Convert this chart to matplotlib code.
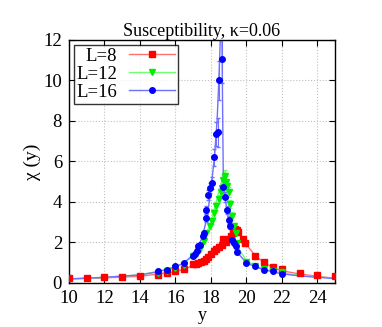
import matplotlib
matplotlib.use('Agg')
import matplotlib.pyplot as plt
from matplotlib.lines import Line2D

plt.rcParams['font.family'] = ['Liberation Serif', 'DejaVu Serif']

# L=8 data points
x8 = [10, 11, 12, 13, 14, 15, 15.5, 16, 16.5, 17.0, 17.15, 17.3, 17.45, 17.6, 17.7, 17.85,
      18.0, 18.15, 18.3, 18.45, 18.6, 18.7, 18.85, 19.0, 19.15, 19.25, 19.35, 19.45, 19.55,
      19.8, 19.95, 20.5, 21.0, 21.5, 22.0, 23.0, 24.0, 25.0]
y8 = [0.25, 0.25, 0.28, 0.3, 0.33, 0.41, 0.49, 0.58, 0.69, 0.94, 0.95, 0.99, 1.04, 1.1, 1.17, 1.28,
      1.43, 1.56, 1.68, 1.78, 1.89, 2.17, 2.0, 2.17, 2.3, 2.47, 2.67, 2.63, 2.5,
      2.17, 1.97, 1.35, 1.02, 0.79, 0.69, 0.49, 0.41, 0.36]
e8 = [0.03] * len(x8)

# L=12 data points
x12 = [15, 15.5, 16, 16.5, 17.0, 17.4, 17.6, 17.75, 17.95, 18.05, 18.2, 18.3, 18.45, 18.55,
       18.62, 18.7, 18.78, 18.85, 18.9, 19.0, 19.1, 19.2, 19.3, 19.4, 19.5, 20.0, 20.5, 21.0,
       21.5, 22.0]
y12 = [0.49, 0.58, 0.74, 0.9, 1.32, 1.68, 2.06, 2.47, 2.8, 3.05, 3.46, 3.79, 4.15, 4.48,
       4.69, 5.1, 5.3, 4.97, 4.77, 4.48, 3.92, 3.33, 2.8, 2.47, 1.97, 1.02, 0.82, 0.69,
       0.59, 0.53]
e12 = [0.03, 0.03, 0.04, 0.05, 0.06, 0.08, 0.1, 0.12, 0.15, 0.15, 0.2, 0.2, 0.2, 0.25,
       0.25, 0.3, 0.3, 0.3, 0.25, 0.25, 0.2, 0.2, 0.15, 0.12, 0.1, 0.05, 0.04, 0.03,
       0.03, 0.03]

# L=16 data points
x16 = [15, 15.5, 16, 16.5, 17.0, 17.1, 17.2, 17.3, 17.4, 17.55, 17.6, 17.7, 17.75, 17.85,
       17.95, 18.05, 18.2, 18.3, 18.4, 18.48, 18.6, 18.67, 18.8, 18.9, 19.0, 19.1, 19.2,
       19.3, 19.4, 19.5, 20.0, 20.5, 21.0, 21.5, 22.0]
y16 = [0.58, 0.63, 0.82, 0.99, 1.35, 1.45, 1.56, 1.81, 1.89, 2.3, 2.47, 3.2, 3.6, 4.36,
       4.69, 4.94, 6.2, 7.36, 7.44, 10.0, 11.06, 4.72, 4.25, 3.59, 3.13, 2.8, 2.14,
       1.97, 1.84, 1.51, 0.99, 0.82, 0.66, 0.58, 0.46]
e16 = [0.03, 0.03, 0.04, 0.05, 0.06, 0.07, 0.08, 0.1, 0.1, 0.12, 0.12, 0.2, 0.2, 0.25,
       0.25, 0.3, 0.4, 0.6, 0.7, 0.95, 1.2, 0.3, 0.25, 0.2, 0.2, 0.15, 0.12,
       0.1, 0.1, 0.08, 0.05, 0.04, 0.03, 0.03, 0.03]

# fit curves (vertices)
cx8 = [10, 12, 14, 16, 17, 17.5, 18, 18.5, 19, 19.3, 19.6, 20, 20.5, 21, 21.5, 22, 23, 24, 25]
cy8 = [0.2, 0.25, 0.33, 0.55, 0.85, 1.05, 1.35, 1.75, 2.2, 2.65, 2.4, 1.9, 1.35, 1.0, 0.75, 0.6, 0.45, 0.33, 0.23]
cx12 = [10, 12, 14, 16, 17, 17.5, 18, 18.3, 18.6, 18.75, 18.9, 19.1, 19.3, 19.5, 20, 20.5, 21, 22, 23, 24, 25]
cy12 = [0.2, 0.28, 0.4, 0.75, 1.3, 1.9, 3.0, 4.0, 5.0, 5.5, 4.5, 3.2, 2.4, 1.8, 1.1, 0.85, 0.68, 0.5, 0.38, 0.3, 0.23]
cx16 = [10, 12, 14, 15, 16, 16.5, 17, 17.5, 17.8, 18.0, 18.2, 18.35, 18.45, 18.55, 18.62,
        18.7, 18.8, 19, 19.2, 19.5, 20, 20.5, 21, 22, 23, 24, 25]
cy16 = [0.2, 0.28, 0.4, 0.55, 0.8, 1.0, 1.4, 2.2, 3.3, 4.6, 6.2, 8.0, 10.0, 12.5, 12.5,
        5.2, 4.2, 3.1, 2.2, 1.5, 1.0, 0.8, 0.65, 0.45, 0.35, 0.28, 0.22]

labels = ['L=8', 'L=12', 'L=16']
series = [
    (x8, y8, e8, cx8, cy8, '#ff0000', '#ff7070', 's', 4.0),
    (x12, y12, e12, cx12, cy12, '#00ee00', '#70ff70', 'v', 3.8),
    (x16, y16, e16, cx16, cy16, '#0000ff', '#7070ff', 'o', 4.0),
]

fig = plt.figure(figsize=(3.82, 3.27), dpi=100)
ax = fig.add_axes([0.1806, 0.1346, 0.6964, 0.7431])

handles = []
for x, y, e, cx, cy, col, lcol, mk, ms in series:
    ax.plot(cx, cy, '-', color=lcol, lw=1.0, zorder=2)
    ax.errorbar(x, y, yerr=e, fmt='none', ecolor=lcol, elinewidth=0.8, capsize=1.5, zorder=2)
    ax.plot(x, y, mk, color=col, ms=ms, mec=col, zorder=3)
    handles.append(Line2D([0], [0], color=lcol, lw=1.0, marker=mk, mfc=col, mec=col, ms=ms))

ax.set_xlim(10, 25)
ax.set_ylim(0, 12)
ax.set_xticks(range(10, 25, 2))
ax.set_yticks(range(0, 13, 2))
ax.grid(True, color='#c0c0c0', ls=':', lw=0.8)
ax.tick_params(direction='in', top=True, right=True, labelsize=13.5, length=4, pad=5)
for s in ax.spines.values():
    s.set_linewidth(1.0)

ax.set_title('Susceptibility, κ=0.06', fontsize=13, pad=3)
ax.set_xlabel('y', fontsize=13, labelpad=0)
ax.set_ylabel('χ (y)', fontsize=14, labelpad=2)

leg = ax.legend(handles, labels, loc='upper left', markerfirst=False,
                fontsize=13.5, frameon=True, fancybox=False, edgecolor='black',
                handlelength=2.5, handletextpad=0.6, borderpad=0.15, labelspacing=0.05,
                borderaxespad=0.25)
leg.get_frame().set_linewidth(1.0)
# right-align the labels like gnuplot does
for col in leg._legend_handle_box.get_children():
    col.align = 'right'

fig.savefig('out.png', dpi=100)
